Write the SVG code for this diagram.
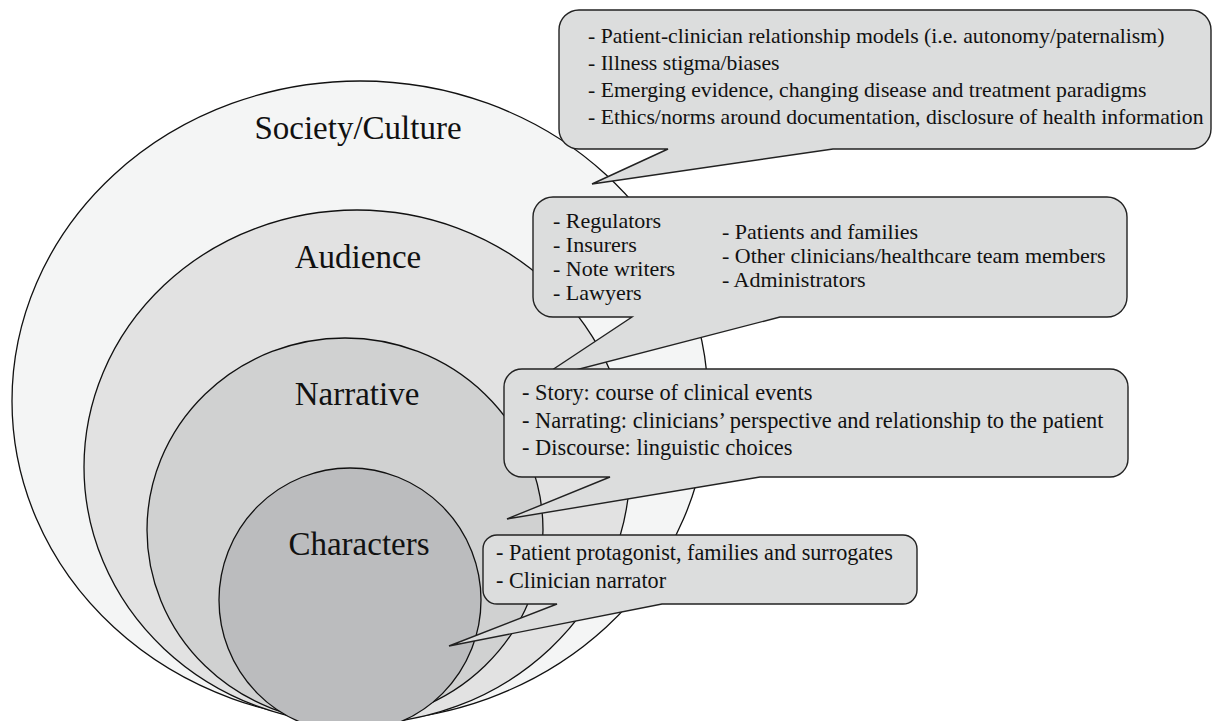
<svg xmlns="http://www.w3.org/2000/svg" width="1213" height="721" viewBox="0 0 1213 721">
  <style>
    .ring { stroke: #111; stroke-width: 1.3; }
    .label { font-family: "Liberation Serif", "Times New Roman", serif; font-size: 33px; fill: #111; text-anchor: middle; }
    .callout { fill: #dcdddd; stroke: #222; stroke-width: 1.4; stroke-linejoin: miter; }
    .note { font-family: "Liberation Serif", "Times New Roman", serif; fill: #111; }
  </style>
  <rect width="1213" height="721" fill="#ffffff"/>

  <!-- nested layers -->
  <g id="society">
    <ellipse class="ring" cx="360" cy="401" rx="348" ry="320" fill="#f4f5f5"/>
    <text class="label" x="358" y="139">Society/Culture</text>
  </g>
  <g id="audience">
    <ellipse class="ring" cx="357" cy="467" rx="273" ry="257" fill="#e2e2e2"/>
    <text class="label" x="358" y="268">Audience</text>
  </g>
  <g id="narrative">
    <ellipse class="ring" cx="345" cy="530" rx="198" ry="192" fill="#d0d1d1"/>
    <text class="label" x="357" y="405">Narrative</text>
  </g>
  <g id="characters">
    <ellipse class="ring" cx="350" cy="600" rx="131" ry="132" fill="#bbbcbe"/>
    <text class="label" x="359" y="555">Characters</text>
  </g>

  <!-- speech-bubble callouts pointing into each layer -->
  <g id="connectors">
    <path id="society-callout" class="callout" d="M579,10 H1191 A20,20 0 0 1 1211,30 V129 A20,20 0 0 1 1191,149 H833 L592,184 L668,149 H579 A20,20 0 0 1 559,129 V30 A20,20 0 0 1 579,10 Z"/>
    <path id="audience-callout" class="callout" d="M553,197 H1107 A20,20 0 0 1 1127,217 V297 A20,20 0 0 1 1107,317 H780 L537,380 L632,317 H553 A20,20 0 0 1 533,297 V217 A20,20 0 0 1 553,197 Z"/>
    <path id="narrative-callout" class="callout" d="M522,369 H1110 A18,18 0 0 1 1128,387 V459 A18,18 0 0 1 1110,477 H760 L507,519 L610,477 H522 A18,18 0 0 1 504,459 V387 A18,18 0 0 1 522,369 Z"/>
    <path id="characters-callout" class="callout" d="M497,535 H903 A14,14 0 0 1 917,549 V590 A14,14 0 0 1 903,604 H662 L449,646 L557,604 H497 A14,14 0 0 1 483,590 V549 A14,14 0 0 1 497,535 Z"/>
  </g>

  <g id="society-notes" class="note" font-size="21.7">
    <text x="588" y="43">- Patient-clinician relationship models (i.e. autonomy/paternalism)</text>
    <text x="588" y="70">- Illness stigma/biases</text>
    <text x="588" y="97">- Emerging evidence, changing disease and treatment paradigms</text>
    <text x="588" y="124">- Ethics/norms around documentation, disclosure of health information</text>
  </g>
  <g id="audience-notes" class="note" font-size="22">
    <text x="553" y="228">- Regulators</text>
    <text x="553" y="252">- Insurers</text>
    <text x="553" y="276">- Note writers</text>
    <text x="553" y="300">- Lawyers</text>
    <text x="722" y="239">- Patients and families</text>
    <text x="722" y="263">- Other clinicians/healthcare team members</text>
    <text x="722" y="287">- Administrators</text>
  </g>
  <g id="narrative-notes" class="note" font-size="22.4">
    <text x="522" y="400">- Story: course of clinical events</text>
    <text x="522" y="428">- Narrating: clinicians’ perspective and relationship to the patient</text>
    <text x="522" y="455">- Discourse: linguistic choices</text>
  </g>
  <g id="characters-notes" class="note" font-size="22.2">
    <text x="496" y="560">- Patient protagonist, families and surrogates</text>
    <text x="496" y="588">- Clinician narrator</text>
  </g>
</svg>
